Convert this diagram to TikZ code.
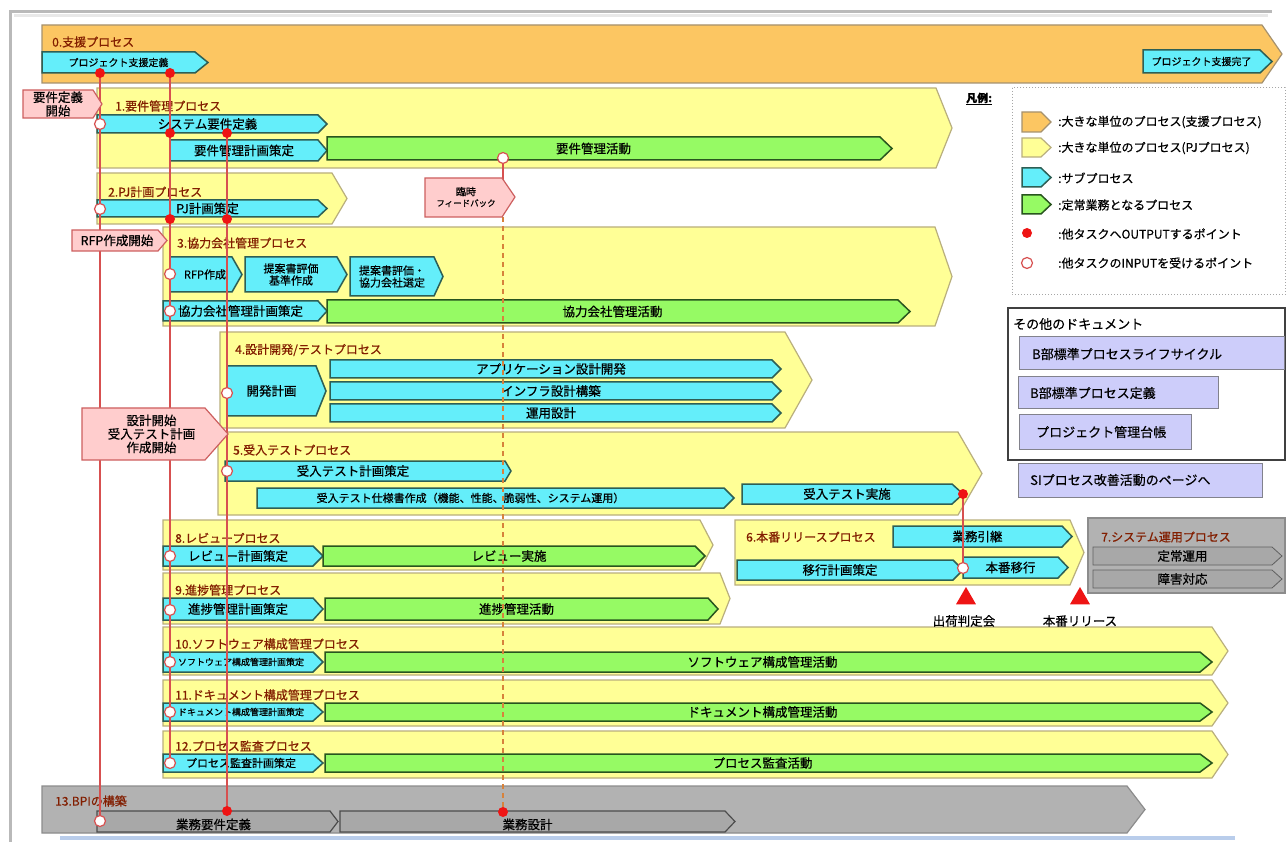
\documentclass[tikz,border=0pt]{standalone}
\usepackage{fontspec}
\setmainfont{Noto Sans CJK JP}[FakeBold=0.6]
\usetikzlibrary{shapes.geometric}
\definecolor{orng}{RGB}{252,198,98}
\definecolor{orngB}{RGB}{165,145,110}
\definecolor{ylw}{RGB}{255,255,150}
\definecolor{ylwB}{RGB}{185,175,125}
\definecolor{cyn}{RGB}{100,238,250}
\definecolor{cynB}{RGB}{45,95,85}
\definecolor{grn}{RGB}{150,250,100}
\definecolor{grnB}{RGB}{40,85,30}
\definecolor{pnk}{RGB}{255,205,205}
\definecolor{pnkB}{RGB}{205,95,95}
\definecolor{gry}{RGB}{178,178,178}
\definecolor{gryB}{RGB}{140,140,140}
\definecolor{gsubc}{RGB}{168,168,168}
\definecolor{redl}{RGB}{215,80,80}
\definecolor{dotr}{RGB}{238,20,20}
\definecolor{lav}{RGB}{205,205,250}
\definecolor{lavB}{RGB}{130,130,140}
\definecolor{lbl}{RGB}{130,30,0}
\definecolor{dashc}{RGB}{215,130,60}
\definecolor{bluel}{RGB}{185,205,235}
\tikzset{
 oband/.style={fill=orng,draw=orngB,line width=1.2pt},
 yband/.style={fill=ylw,draw=ylwB,line width=1.2pt},
 gband/.style={fill=gry,draw=gryB,line width=1.2pt},
 sub/.style={fill=cyn,draw=cynB,line width=1.5pt},
 act/.style={fill=grn,draw=grnB,line width=1.5pt},
 gsub/.style={fill=gsubc,draw=black!70,line width=1.2pt},
 gsubl/.style={fill=gsubc,draw=gray!75!black,line width=0.8pt},
 pinkb/.style={fill=pnk,draw=pnkB,line width=1.2pt},
 lavbox/.style={fill=lav,draw=lavB,line width=1pt},
 fA/.style={font=\fontsize{12.5}{13.5}\selectfont,inner sep=0pt,align=center},
 fB/.style={font=\fontsize{11}{12}\selectfont,inner sep=0pt,align=center},
 fC/.style={font=\fontsize{10}{11}\selectfont,inner sep=0pt,align=center},
 fD/.style={font=\fontsize{9}{10}\selectfont,inner sep=0pt,align=center},
 fL/.style={font=\fontsize{13}{14}\selectfont,inner sep=0pt,anchor=west},
 fG/.style={font=\fontsize{12}{13}\selectfont,inner sep=0pt,anchor=west},
 blabel/.style={font=\fontsize{12}{13}\selectfont,text=lbl,anchor=west,inner sep=0pt},
 redline/.style={draw=redl,line width=1.8pt},
 dline/.style={draw=dashc,line width=1.6pt,dash pattern=on 5pt off 4pt},
 odot/.style={circle,fill=dotr,minimum size=10pt,inner sep=0pt},
 idot/.style={circle,fill=white,draw=redl,line width=1.2pt,minimum size=11pt,inner sep=0pt},
 tri/.style={regular polygon,regular polygon sides=3,fill=dotr,minimum size=23pt,inner sep=0pt},
}
% #1 text style, #2 shape style, #3 x1, #4 y1, #5 x2 (body end), #6 y2, #7 tip x, #8 name, #9 text
\newcommand{\pent}[9][fA]{%
 \path[#2] (#3,#4) -- (#5,#4) -- (#7,{(#4+#6)/2}) -- (#5,#6) -- (#3,#6) -- cycle;
 \node[#1] (#8) at ({(#3+#5)/2},{(#4+#6)/2}) {#9};
}
\begin{document}
\begin{tikzpicture}[x=1pt,y=-1pt]
\useasboundingbox (0,0) rectangle (1286,842);
\fill[white] (0,0) rectangle (1286,842);
% frame
\draw[gray!55,line width=3pt] (10,842) -- (10,12) -- (1272,12);
\draw[gray!18,line width=3pt] (14,16) -- (1268,16);
\draw[bluel,line width=4pt] (60,838) -- (1235,838);

% ---------- 0 support process
\pent{oband}{42}{25}{1262}{83}{1282}{b0}{}
\node[blabel] (l0) at (52,42) {0.支援プロセス};
\pent[fC]{sub}{42}{52}{195}{73}{208}{s0a}{プロジェクト支援定義}
\pent[fC]{sub}{1143}{50}{1260}{73}{1272}{s0b}{プロジェクト支援完了}

% ---------- 1
\pent{yband}{97}{88}{936}{168}{952}{b1}{}
\node[blabel] (l1) at (115,106) {1.要件管理プロセス};
\pent{sub}{97}{115}{318}{133}{327}{s1a}{システム要件定義}
\pent{sub}{170}{140}{318}{161}{327}{s1b}{要件管理計画策定}
\pent[fA,xshift=-10pt]{act}{327}{137}{880}{160}{892}{a1}{要件管理活動}

% ---------- 2
\pent{yband}{97}{173}{332}{224}{347}{b2}{}
\node[blabel] (l2) at (108,192) {2.PJ計画プロセス};
\pent{sub}{97}{200}{318}{217}{327}{s2a}{PJ計画策定}

% ---------- 3
\pent{yband}{163}{227}{935}{326}{952}{b3}{}
\node[blabel] (l3) at (177,243) {3.協力会社管理プロセス};
\pent[fB,xshift=4pt]{sub}{170}{257}{232}{292}{242}{s3a}{RFP作成}
\pent[fB]{sub}{245}{257}{337}{292}{347}{s3b}{提案書評価\\基準作成}
\pent[fB]{sub}{350}{257}{434}{296}{443}{s3c}{提案書評価・\\協力会社選定}
\pent{sub}{163}{301}{318}{321}{327}{s3d}{協力会社管理計画策定}
\pent{act}{327}{300}{898}{323}{910}{a3}{協力会社管理活動}

% ---------- 4
\pent{yband}{220}{332}{785}{428}{812}{b4}{}
\node[blabel] (l4) at (235,350) {4.設計開発/テストプロセス};
\pent{sub}{227}{366}{316}{416}{326}{s4a}{開発計画}
\pent{sub}{330}{360}{772}{378}{781}{s4b}{アプリケーション設計開発}
\pent{sub}{330}{382}{772}{400}{781}{s4c}{インフラ設計構築}
\pent{sub}{330}{404}{772}{422}{781}{s4d}{運用設計}

% ---------- 5
\pent{yband}{218}{432}{958}{515}{982}{b5}{}
\node[blabel] (l5) at (233,450) {5.受入テストプロセス};
\pent[fA,xshift=-12pt]{sub}{225}{461}{505}{481}{511}{s5a}{受入テスト計画策定}
\pent[fB,xshift=-20pt]{sub}{257}{488}{724}{508}{734}{s5b}{受入テスト仕様書作成（機能、性能、脆弱性、システム運用）}
\pent{sub}{742}{484}{952}{504}{963}{s5c}{受入テスト実施}

% ---------- 6
\pent{yband}{735}{520}{1070}{585}{1084}{b6}{}
\node[blabel] (l6) at (746,537) {6.本番リリースプロセス};
\pent{sub}{893}{526}{1062}{547}{1072}{s6a}{業務引継}
\pent[fA,xshift=-5pt]{sub}{737}{560}{953}{580}{963}{s6b}{移行計画策定}
\pent{sub}{963}{557}{1058}{578}{1068}{s6c}{本番移行}

% ---------- 7
\path[gband] (1088,518) rectangle (1285,593);
\node[blabel] (l7) at (1101,537) {7.システム運用プロセス};
\pent{gsubl}{1093}{547}{1272}{565}{1282}{s7a}{定常運用}
\pent{gsubl}{1093}{570}{1272}{588}{1282}{s7b}{障害対応}

% ---------- 8
\pent{yband}{163}{520}{700}{570}{713}{b8}{}
\node[blabel] (l8) at (175,538) {8.レビュープロセス};
\pent{sub}{163}{546}{313}{566}{323}{s8a}{レビュー計画策定}
\pent{act}{323}{546}{695}{566}{705}{a8}{レビュー実施}

% ---------- 9
\pent{yband}{163}{573}{720}{624}{730}{b9}{}
\node[blabel] (l9) at (175,590) {9.進捗管理プロセス};
\pent{sub}{163}{598}{313}{620}{323}{s9a}{進捗管理計画策定}
\pent{act}{325}{598}{708}{620}{718}{a9}{進捗管理活動}

% ---------- 10
\pent{yband}{163}{627}{1212}{675}{1228}{b10}{}
\node[blabel] (l10) at (175,644) {10.ソフトウェア構成管理プロセス};
\pent[fD,xshift=3pt]{sub}{163}{652}{313}{672}{323}{s10a}{ソフトウェア構成管理計画策定}
\pent{act}{325}{652}{1200}{672}{1212}{a10}{ソフトウェア構成管理活動}

% ---------- 11
\pent{yband}{163}{680}{1212}{726}{1228}{b11}{}
\node[blabel] (l11) at (175,695) {11.ドキュメント構成管理プロセス};
\pent[fD,xshift=3pt]{sub}{163}{703}{313}{721}{323}{s11a}{ドキュメント構成管理計画策定}
\pent{act}{325}{703}{1200}{721}{1212}{a11}{ドキュメント構成管理活動}

% ---------- 12
\pent{yband}{163}{731}{1212}{778}{1228}{b12}{}
\node[blabel] (l12) at (175,746) {12.プロセス監査プロセス};
\pent[fB,xshift=3pt]{sub}{163}{754}{313}{772}{323}{s12a}{プロセス監査計画策定}
\pent{act}{325}{754}{1200}{772}{1212}{a12}{プロセス監査活動}

% ---------- 13
\pent{gband}{42}{786}{1127}{833}{1145}{b13}{}
\node[blabel] (l13) at (55,801) {13.BPIの構築};
\pent[fA,yshift=-3pt]{gsub}{97}{811}{330}{832}{338}{s13a}{業務要件定義}
\pent[fA,xshift=-5pt,yshift=-3pt]{gsub}{340}{811}{725}{832}{735}{s13b}{業務設計}

% ---------- connector points
\coordinate (A0) at (100,73);  \coordinate (A1) at (100,124);
\coordinate (A2) at (100,209); \coordinate (A3) at (100,821);
\coordinate (B0) at (170,73);  \coordinate (B1) at (170,133);
\coordinate (B2) at (170,219); \coordinate (B3) at (170,274);
\coordinate (B4) at (170,311); \coordinate (B5) at (170,556);
\coordinate (B6) at (170,610); \coordinate (B7) at (170,662);
\coordinate (B8) at (170,712); \coordinate (B9) at (170,763);
\coordinate (C0) at (227,133); \coordinate (C1) at (227,219);
\coordinate (C2) at (227,393); \coordinate (C3) at (227,471);
\coordinate (C4) at (227,811);
\coordinate (D0) at (503,158); \coordinate (Dm) at (503,180);
\coordinate (Dn) at (503,217); \coordinate (D1) at (503,812);
\coordinate (E0) at (963,494); \coordinate (E1) at (963,568);

\draw[redline] (A0) -- (A3);
\draw[redline] (B0) -- (B9);
\draw[redline] (C0) -- (C4);
\draw[redline] (D0) -- (Dm);
\draw[dline] (Dn) -- (D1);
\draw[redline] (E0) -- (E1);

% ---------- pink start labels
\pent[fA]{pinkb}{23}{90}{93}{118}{102}{p1}{要件定義\\開始}
\pent[fA,xshift=2pt]{pinkb}{72}{230}{158}{251}{167}{p2}{RFP作成開始}
\pent[fA,xshift=8pt]{pinkb}{82}{408}{205}{460}{228}{p3}{設計開始\\受入テスト計画\\作成開始}
\path[pinkb] (425,178) -- (502,178) -- (515,197) -- (502,217) -- (425,217) -- cycle;
\node[fC] (fb) at (466,197) {臨時\\\fontsize{8.5}{9.5}\selectfont フィードバック};

% ---------- dots
\foreach \p in {A0,B0,B1,B2,C0,C1,C4,D1,E0} \node[odot] (o\p) at (\p) {};
\foreach \p in {A1,A2,A3,B3,B4,B5,B6,B7,B8,B9,C2,C3,D0,E1} \node[idot] (i\p) at (\p) {};

% ---------- milestones
\node[tri] (t1) at (966,598.5) {};
\node[tri] (t2) at (1080,598.5) {};
\node[fA] (t1l) at (964,621) {出荷判定会};
\node[fA] (t2l) at (1080,621) {本番リリース};

% ---------- legend
\node[fG,font=\fontsize{11}{12}\selectfont\bfseries] (lgt) at (966,99) {\underline{凡例:}};
\draw[gray!70,dotted,line width=1pt] (1012,88) rectangle (1285,295);
\pent{oband}{1022}{112}{1041}{132}{1051}{ic1}{}
\pent{yband}{1022}{138}{1041}{157}{1051}{ic2}{}
\pent{sub}{1022}{168}{1041}{187}{1051}{ic3}{}
\pent{act}{1022}{195}{1041}{214}{1051}{ic4}{}
\node[odot] (ic5) at (1027,233) {};
\node[idot] (ic6) at (1027,263) {};
\node[fG] (lg1) at (1058,122) {:大きな単位のプロセス(支援プロセス)};
\node[fG] (lg2) at (1058,148) {:大きな単位のプロセス(PJプロセス)};
\node[fG] (lg3) at (1058,178) {:サブプロセス};
\node[fG] (lg4) at (1058,205) {:定常業務となるプロセス};
\node[fG] (lg5) at (1058,234) {:他タスクへOUTPUTするポイント};
\node[fG] (lg6) at (1058,263) {:他タスクのINPUTを受けるポイント};

% ---------- other documents
\draw[black!75,line width=1.2pt] (1008,308) rectangle (1285,460);
\node[fL] (od) at (1013,324) {その他のドキュメント};
\path[lavbox] (1019,337) rectangle (1284,370);
\node[fL] (d1) at (1032,354) {B部標準プロセスライフサイクル};
\path[lavbox] (1018,377) rectangle (1218,409);
\node[fL] (d2) at (1030,393) {B部標準プロセス定義};
\path[lavbox] (1019,415) rectangle (1191,449);
\node[fL] (d3) at (1036,432) {プロジェクト管理台帳};
\path[lavbox] (1018,463) rectangle (1262,497);
\node[fL] (d4) at (1030,480) {SIプロセス改善活動のページへ};
\end{tikzpicture}
\end{document}
